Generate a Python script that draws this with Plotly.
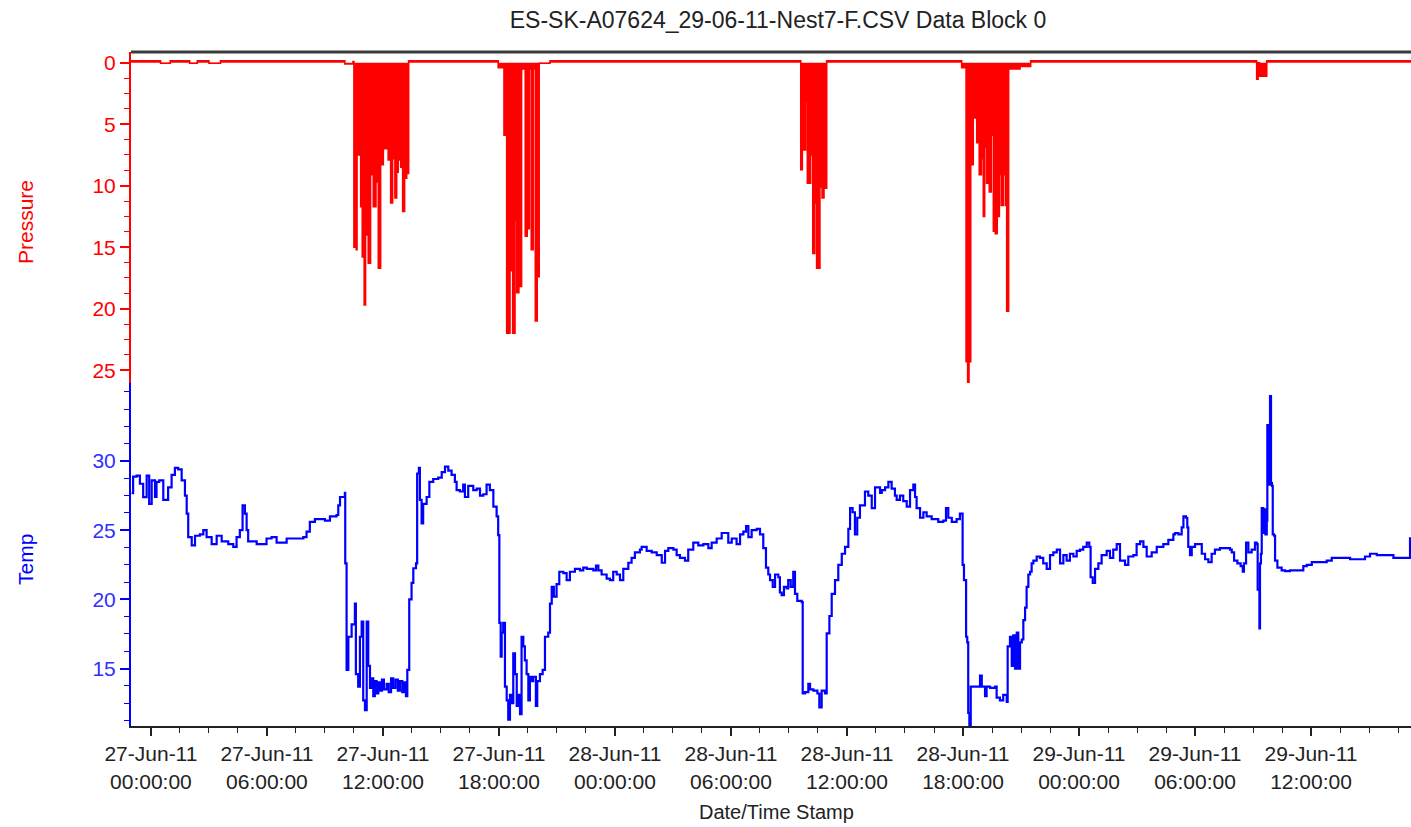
import plotly.graph_objects as go
import pandas as pd

BASE = pd.Timestamp("2011-06-27 00:00:00")

# ---------------- data (hours after 27-Jun-11 00:00) ----------------
pressure_hours = [
    -1.03, 0.50, 1.00, 2.00, 2.40, 3.00, 3.60, 10.03, 10.45,
    10.50, 10.62, 10.66, 10.85, 10.93, 11.03, 11.10, 11.24, 11.36, 11.50,
    11.64, 11.76, 11.88, 12.02, 12.10, 12.27, 12.40, 12.50, 12.62, 12.71,
    12.79, 12.92, 13.02, 13.12, 13.23, 13.33,
    17.96, 18.26, 18.40, 18.57, 18.71, 18.83, 18.92, 19.03, 19.17, 19.36,
    19.46, 19.57, 19.67, 19.77, 19.88, 19.98, 20.08, 20.64,
    33.61, 33.69, 33.86, 33.95, 34.12, 34.23, 34.33, 34.43, 34.60, 34.71,
    34.81, 34.95,
    41.93, 42.16, 42.24, 42.31, 42.40, 42.53, 42.71, 42.84, 42.95, 43.05,
    43.12, 43.22, 43.36, 43.46, 43.57, 43.67, 43.77, 43.88, 43.98, 44.08,
    44.19, 44.26, 44.36, 44.95, 45.50,
    57.19, 57.26, 57.33, 57.71, 65.17,
]
pressure_values = [
    -0.15, 0.05, -0.15, 0.05, -0.15, 0.05, -0.15, 0.10, -0.10,
    15.0, 15.2, 7.5, 11.7, 15.8, 19.7, 14.0, 16.3, 9.1, 11.7,
    9.7, 16.7, 8.3, 6.9, 7.0, 7.9, 11.4, 7.8, 11.0, 8.9,
    7.9, 8.5, 12.1, 9.4, 9.0, -0.15,
    0.4, 5.9, 22.0, 16.9, 22.0, 12.8, 18.7, 18.2, 0.5, 14.1,
    13.5, 0.5, 15.2, 0.5, 21.0, 17.4, 0.05, -0.15,
    8.7, 7.1, 3.2, 9.8, 7.5, 15.5, 11.4, 16.7, 10.1, 11.0,
    10.2, -0.15,
    0.4, 24.3, 26.2, 24.3, 8.3, 4.5, 6.5, 9.1, 7.8, 12.5,
    6.9, 9.8, 10.5, 5.9, 13.7, 13.9, 12.5, 9.1, 11.6, 9.1,
    11.6, 20.2, 0.5, 0.3, -0.15,
    1.35, 0.0, 1.1, -0.15, -0.15,
]

temp_hours = [
    -1.00, -0.92, -0.74, -0.57, -0.40, -0.22, -0.09, 0.04, 0.21, 0.29,
    0.43, 0.64, 0.89, 1.07, 1.24, 1.41, 1.59, 1.76, 1.85, 1.93,
    2.11, 2.28, 2.53, 2.71, 2.88, 3.14, 3.40, 3.66, 4.00, 4.26,
    4.43, 4.60, 4.74, 4.86, 4.95, 5.03, 5.47, 5.98, 6.24, 6.50,
    7.02, 7.36, 7.88, 8.05, 8.22, 8.48, 9.00, 9.26, 9.60, 9.69,
    9.78, 10.03,
    10.05, 10.12, 10.21, 10.38, 10.55, 10.60, 10.72, 10.81, 10.90, 10.98,
    11.07, 11.16, 11.24, 11.33, 11.42, 11.50, 11.58, 11.67, 11.76, 11.84,
    11.95, 12.05, 12.19, 12.30, 12.42, 12.53, 12.65, 12.77, 12.88, 13.00,
    13.10, 13.19, 13.26, 13.36, 13.48, 13.57, 13.71, 13.77, 13.86, 13.91,
    14.00, 14.08, 14.26, 14.40, 14.60, 14.86, 15.04, 15.21, 15.38, 15.55,
    15.72, 15.81, 15.98, 16.15, 16.24, 16.41, 16.67, 16.85, 17.02, 17.19,
    17.36, 17.53, 17.71, 17.88, 17.96, 18.02, 18.09, 18.14, 18.22, 18.31,
    18.40, 18.48, 18.57, 18.66, 18.74, 18.83, 18.92, 19.00, 19.09, 19.17,
    19.26, 19.34, 19.43, 19.52, 19.60, 19.69, 19.77, 19.91, 19.98, 20.12,
    20.26, 20.38, 20.55, 20.64, 20.73, 20.84, 20.98, 21.12, 21.33, 21.50,
    21.67, 21.93,
    22.19, 22.36, 22.54, 22.71, 22.88, 23.02, 23.14, 23.31, 23.57, 23.74,
    23.91, 24.09, 24.26, 24.43, 24.69, 24.86, 25.03, 25.29, 25.38, 25.64,
    25.90, 26.16, 26.42, 26.59, 26.76, 27.02, 27.19, 27.36, 27.62, 27.79,
    28.05, 28.31, 28.57, 28.83, 29.00, 29.26, 29.52, 29.69, 29.86, 30.04,
    30.29, 30.47, 30.64, 30.78, 30.90, 31.07, 31.33, 31.50, 31.67, 31.81,
    31.93, 32.02, 32.16, 32.28, 32.45, 32.53, 32.62, 32.74, 32.88, 32.96,
    33.09, 33.22, 33.31, 33.43, 33.66, 33.71, 33.83, 34.00, 34.09, 34.26,
    34.47, 34.57, 34.69, 34.86, 34.95, 35.09, 35.21, 35.38, 35.55, 35.73,
    35.90, 36.07, 36.16, 36.29, 36.41, 36.53, 36.67, 36.93, 37.10, 37.28,
    37.45,
    37.71, 37.80, 37.97, 38.14, 38.31, 38.48, 38.57, 38.74, 38.91, 39.09,
    39.26, 39.43, 39.52, 39.60, 39.78, 39.95, 40.12, 40.38, 40.72, 40.98,
    41.12, 41.24, 41.42, 41.67, 41.84, 41.93, 41.98, 42.05, 42.16, 42.22,
    42.27, 42.33, 42.40, 42.53, 42.71, 42.88, 42.97, 43.14, 43.22, 43.40,
    43.66, 43.74, 43.91, 44.08, 44.26, 44.31, 44.43, 44.52, 44.60, 44.69,
    44.78, 44.86, 44.95, 45.04, 45.12, 45.21, 45.29, 45.38, 45.47, 45.55,
    45.64, 45.81, 45.98, 46.15, 46.33, 46.50, 46.67, 46.85, 47.02, 47.19,
    47.36, 47.53, 47.71, 47.88, 48.05, 48.22, 48.40, 48.53, 48.60, 48.71,
    48.83, 49.00, 49.17, 49.43, 49.60, 49.77, 49.95, 50.12, 50.38, 50.55,
    50.81, 50.98, 51.16, 51.33, 51.50, 51.76, 52.02, 52.36, 52.62, 52.88,
    52.97, 53.14, 53.31, 53.40, 53.53, 53.60, 53.65, 53.74, 53.83, 54.00,
    54.17, 54.35, 54.52, 54.69, 54.86, 55.03, 55.29, 55.64, 55.81, 55.90,
    56.02, 56.19, 56.36, 56.47, 56.53, 56.64, 56.76, 56.93, 57.10, 57.19,
    57.24, 57.33, 57.36, 57.41, 57.45, 57.53, 57.59, 57.64, 57.71, 57.74,
    57.79, 57.84, 57.88, 57.93, 57.98, 58.02, 58.09, 58.14, 58.26, 58.48,
    58.66, 58.91, 59.43, 59.60, 59.78, 60.04, 60.29, 60.81, 61.07, 62.02,
    62.53, 62.79, 63.05, 63.40, 64.17, 64.26, 65.09, 65.12,
]
temp_values = [
    27.67, 28.87, 28.95, 28.36, 27.39, 28.95, 26.9, 28.6, 27.4, 28.5,
    28.6, 27.2, 28.1, 29.0, 29.5, 29.4, 28.6, 27.5, 26.2, 24.5,
    23.9, 24.6, 24.7, 25.0, 24.5, 24.0, 24.6, 24.2, 24.0, 23.8,
    24.5, 25.0, 26.8, 26.2, 25.0, 24.2, 24.0, 24.4, 24.5, 24.1,
    24.4, 24.4, 24.5, 24.9, 25.6, 25.8, 25.7, 26.0, 26.1, 26.8,
    27.4, 27.7,
    22.6, 14.9, 17.3, 18.2, 19.7, 14.6, 13.7, 17.3, 18.4, 12.7,
    12.0, 18.4, 15.2, 13.6, 14.3, 13.0, 14.1, 13.2, 14.0, 13.4,
    14.2, 13.5, 13.9, 13.3, 14.3, 13.6, 14.2, 13.4, 14.1, 13.3,
    14.0, 13.0, 14.9, 20.0, 21.2, 22.25, 22.6, 29.1, 29.5, 27.2,
    25.5, 26.9, 27.4, 28.5, 28.7, 28.8, 29.2, 29.6, 29.3, 29.0,
    28.5, 27.9, 27.8, 28.3, 27.4, 28.2, 27.9, 28.0, 27.5, 27.6,
    28.3, 27.9, 26.7, 26.0, 24.65, 18.3, 15.86, 17.6, 18.3, 13.7,
    12.7, 11.3, 13.1, 12.5, 16.1, 14.6, 12.3, 13.1, 11.7, 17.3,
    16.6, 15.6, 14.6, 12.7, 14.4, 14.1, 14.4, 12.3, 14.1, 14.6,
    14.9, 17.3, 17.6, 19.7, 20.9, 20.2, 21.1, 22.0, 21.9, 21.4,
    22.0, 22.2,
    22.1, 22.3, 22.2, 22.2, 22.1, 22.45, 22.1, 21.8, 21.5, 21.4,
    22.0, 21.8, 21.4, 22.2, 22.65, 23.0, 23.4, 23.6, 23.8, 23.5,
    23.4, 23.2, 22.65, 23.5, 23.7, 23.6, 23.2, 23.0, 22.8, 23.6,
    24.1, 23.9, 24.0, 23.7, 24.1, 24.4, 24.8, 24.8, 24.1, 24.4,
    24.0, 24.7, 24.9, 25.3, 24.5, 25.0, 25.1, 24.7, 23.7, 22.3,
    21.8, 21.4, 20.9, 21.8, 21.6, 20.5, 20.3, 20.9, 20.8, 21.4,
    20.9, 22.0, 20.4, 19.9, 19.8, 13.2, 13.3, 13.9, 13.5, 13.4,
    13.2, 12.2, 13.4, 13.2, 17.55, 18.8, 20.4, 21.4, 22.5, 23.3,
    23.8, 25.1, 26.6, 26.3, 24.7, 25.9, 26.8, 27.8, 27.5, 26.6,
    28.1,
    27.7, 27.9, 28.1, 28.5, 28.0, 27.5, 27.2, 27.5, 27.1, 26.7,
    27.9, 28.3, 27.4, 26.6, 25.9, 26.3, 26.0, 25.8, 25.6, 25.7,
    26.6, 25.9, 25.6, 25.8, 26.2, 26.2, 22.5, 21.4, 17.3, 16.9,
    11.8, 10.9, 13.7, 13.7, 13.7, 14.5, 13.7, 13.0, 13.7, 13.6,
    13.7, 12.9, 12.7, 13.1, 12.6, 16.6, 17.3, 15.2, 17.4, 15.0,
    17.6, 15.0, 16.9, 17.1, 18.5, 19.4, 20.9, 21.8, 22.0, 22.6,
    22.8, 23.1, 23.0, 22.6, 22.2, 23.2, 23.4, 23.6, 22.6, 23.2,
    22.8, 23.3, 23.1, 23.5, 23.6, 23.8, 24.1, 23.8, 21.6, 21.2,
    22.2, 22.6, 23.2, 23.5, 23.0, 23.6, 24.0, 22.8, 22.5, 23.1,
    23.2, 24.0, 24.2, 23.8, 23.1, 23.4, 23.8, 24.0, 24.3, 24.7,
    24.8, 24.7, 25.2, 26.0, 25.9, 25.2, 23.8, 23.2, 23.8, 24.0,
    24.0, 23.3, 22.9, 22.7, 23.3, 23.6, 23.7, 23.7, 23.6, 23.4,
    22.8, 22.6, 22.4, 22.0, 22.6, 24.1, 23.4, 23.6, 24.1, 24.0,
    20.7, 17.9, 22.6, 23.3, 26.6, 24.8, 26.5, 24.7, 25.7, 32.6,
    32.3, 28.3, 34.7, 28.4, 28.2, 24.7, 24.6, 22.8, 22.3, 22.1,
    22.05, 22.1, 22.1, 22.4, 22.5, 22.7, 22.7, 22.8, 23.0, 22.9,
    22.9, 23.1, 23.3, 23.2, 23.2, 23.0, 23.0, 24.5,
]

x_tick_hours = [0, 6, 12, 18, 24, 30, 36, 42, 48, 54, 60]
x_tick_labels = [
    "27-Jun-11<br>00:00:00", "27-Jun-11<br>06:00:00", "27-Jun-11<br>12:00:00",
    "27-Jun-11<br>18:00:00", "28-Jun-11<br>00:00:00", "28-Jun-11<br>06:00:00",
    "28-Jun-11<br>12:00:00", "28-Jun-11<br>18:00:00", "29-Jun-11<br>00:00:00",
    "29-Jun-11<br>06:00:00", "29-Jun-11<br>12:00:00",
]
pressure_ticks = [0, 5, 10, 15, 20, 25]
temp_ticks = [15, 20, 25, 30]
x_range_hours = [-1.03, 65.17]
pressure_range = [26.04, -0.87]
temp_range = [10.85, 35.64]


def to_time(hours):
    return list(BASE + pd.to_timedelta(hours, unit="h"))


FONT = "Arial, Liberation Sans, sans-serif"
RED = "#ff0000"
BLUE = "#0000ff"

fig = go.Figure()
fig.add_trace(go.Scatter(
    x=to_time(pressure_hours), y=pressure_values, mode="lines",
    line=dict(color=RED, width=1.6, shape="hv"),
    fill="tozeroy", fillcolor=RED,
    xaxis="x", yaxis="y2", showlegend=False, hoverinfo="skip",
))
fig.add_trace(go.Scatter(
    x=to_time(temp_hours), y=temp_values, mode="lines",
    line=dict(color=BLUE, width=2.2, shape="hv"),
    xaxis="x", yaxis="y", showlegend=False, hoverinfo="skip",
))

split = 0.5089
fig.update_layout(
    width=1411, height=827,
    margin=dict(l=131, r=0, t=52, b=101),
    paper_bgcolor="white", plot_bgcolor="white",
    font=dict(family=FONT, size=21, color="#222222"),
    title=dict(text="ES-SK-A07624_29-06-11-Nest7-F.CSV Data Block 0",
               x=778 / 1411, xanchor="center", y=1 - 20 / 827, yanchor="middle",
               font=dict(family=FONT, size=23, color="#222222")),
    xaxis=dict(
        type="date", anchor="y",
        range=to_time(x_range_hours),
        tickmode="array", tickvals=to_time(x_tick_hours), ticktext=x_tick_labels,
        ticks="outside", ticklen=8, tickwidth=1.5, tickcolor="#222222",
        minor=dict(ticks="outside", dtick=1.5 * 3600 * 1000, tick0=BASE,
                   ticklen=5, tickwidth=1.2, tickcolor="#222222"),
        showline=True, linecolor="#222222", linewidth=2,
        showgrid=False, zeroline=False,
        tickfont=dict(size=21, color="#222222"),
    ),
    yaxis=dict(
        domain=[0, split], range=temp_range, anchor="x",
        tickmode="array", tickvals=temp_ticks,
        ticks="outside", ticklen=9, tickwidth=1.5, tickcolor=BLUE,
        minor=dict(ticks="outside", tickmode="linear", dtick=1.25, tick0=0,
                   ticklen=5, tickwidth=1.2, tickcolor=BLUE),
        showline=True, linecolor=BLUE, linewidth=2,
        showgrid=False, zeroline=False,
        tickfont=dict(size=21, color="#3030ff"),
    ),
    yaxis2=dict(
        domain=[split, 1], range=pressure_range, anchor="x",
        tickmode="array", tickvals=pressure_ticks,
        ticks="outside", ticklen=9, tickwidth=1.5, tickcolor=RED,
        minor=dict(ticks="outside", tickmode="linear", dtick=1.25, tick0=0,
                   ticklen=5, tickwidth=1.2, tickcolor=RED),
        showline=True, linecolor=RED, linewidth=2,
        showgrid=False, zeroline=False,
        tickfont=dict(size=21, color=RED),
    ),
    shapes=[dict(type="line", xref="paper", yref="paper", x0=0, x1=1, y0=1, y1=1,
                 line=dict(color="#3a3a3a", width=3))],
    annotations=[
        dict(text="Pressure", xref="paper", yref="paper", x=(25 - 131) / 1280,
             y=(726 - 222) / 674, textangle=-90, showarrow=False,
             xanchor="center", yanchor="middle", font=dict(size=21, color=RED)),
        dict(text="Temp", xref="paper", yref="paper", x=(25 - 131) / 1280,
             y=(726 - 560) / 674, textangle=-90, showarrow=False,
             xanchor="center", yanchor="middle", font=dict(size=21, color=BLUE)),
        dict(text="Date/Time Stamp", xref="paper", yref="paper", x=(776 - 131) / 1280,
             y=(726 - 812) / 674, showarrow=False,
             xanchor="center", yanchor="middle", font=dict(size=20, color="#222222")),
    ],
)

fig.write_html("out.html")
